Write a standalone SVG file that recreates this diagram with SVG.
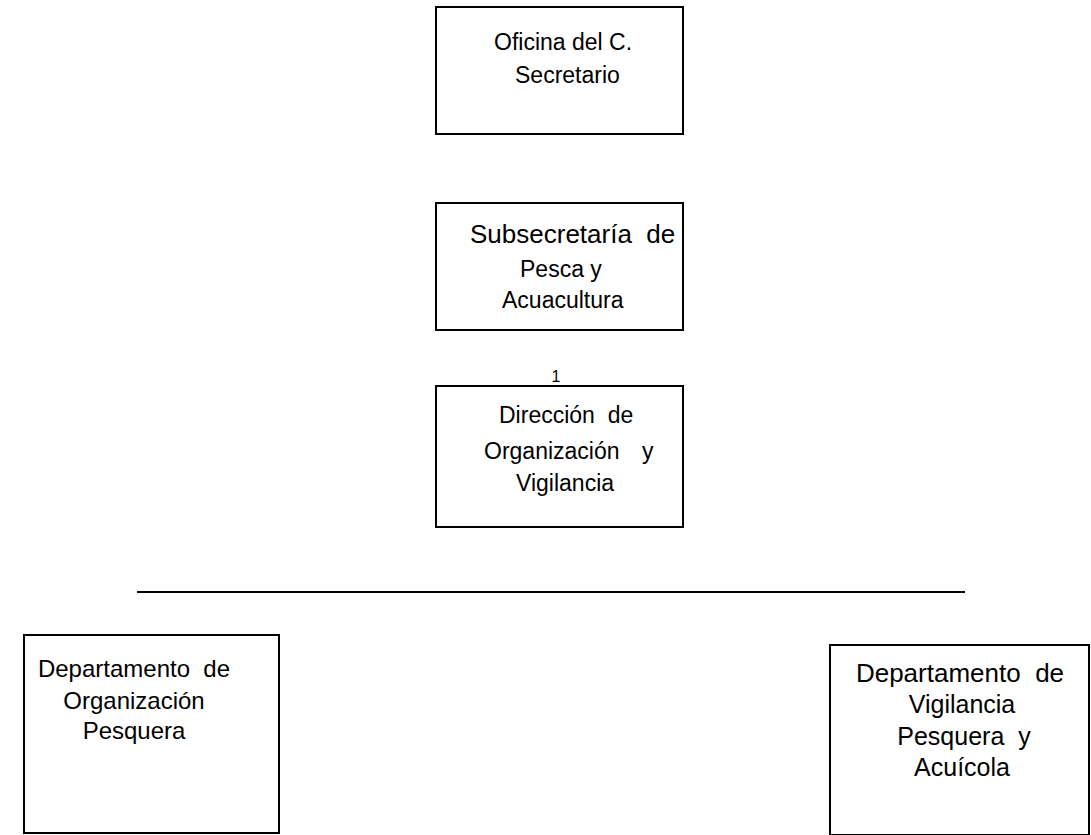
<svg xmlns="http://www.w3.org/2000/svg" width="1091" height="835" viewBox="0 0 1091 835">
<style>
.box{fill:#fff;stroke:#000;stroke-width:2}
.t{font-family:"Liberation Sans",Arial,sans-serif;font-size:23px;fill:#000}
.m{text-anchor:middle}
.b{font-size:24px}
.c{font-size:25px}
.d{font-size:26px}
.s{font-family:"Liberation Sans",Arial,sans-serif;font-size:16px;fill:#000;text-anchor:middle}
.ln{stroke:#000;stroke-width:2;fill:none}
</style>
<rect width="1091" height="835" fill="#fff"/>
<g id="connectors">
<line class="ln" x1="137" y1="592" x2="965" y2="592"/>
</g>
<g id="n1">
<rect class="box" x="436" y="7" width="247" height="127"/>
<text class="t" x="494" y="50">Oficina del C.</text>
<text class="t" x="515" y="83">Secretario</text>
</g>
<g id="n2">
<rect class="box" x="436" y="203" width="247" height="127"/>
<text class="t d" x="470" y="243" xml:space="preserve">Subsecretaría  de</text>
<text class="t" x="520" y="277">Pesca y</text>
<text class="t" x="502" y="308">Acuacultura</text>
</g>
<text class="s" x="556" y="382">1</text>
<g id="n3">
<rect class="box" x="436" y="386" width="247" height="141"/>
<text class="t" x="499" y="423" xml:space="preserve">Dirección  de</text>
<text class="t" x="484" y="459">Organización</text>
<text class="t" x="642" y="459">y</text>
<text class="t" x="516" y="491">Vigilancia</text>
</g>
<g id="n4">
<rect class="box" x="24" y="635" width="255" height="198"/>
<text class="t b m" x="134" y="677" xml:space="preserve">Departamento  de</text>
<text class="t b m" x="134" y="709">Organización</text>
<text class="t b m" x="134" y="739">Pesquera</text>
</g>
<g id="n5">
<rect class="box" x="830" y="645" width="259" height="190"/>
<text class="t d m" x="960" y="682" xml:space="preserve">Departamento  de</text>
<text class="t c m" x="962" y="713">Vigilancia</text>
<text class="t c m" x="964" y="745" xml:space="preserve">Pesquera  y</text>
<text class="t c m" x="962" y="776">Acuícola</text>
</g>
</svg>
